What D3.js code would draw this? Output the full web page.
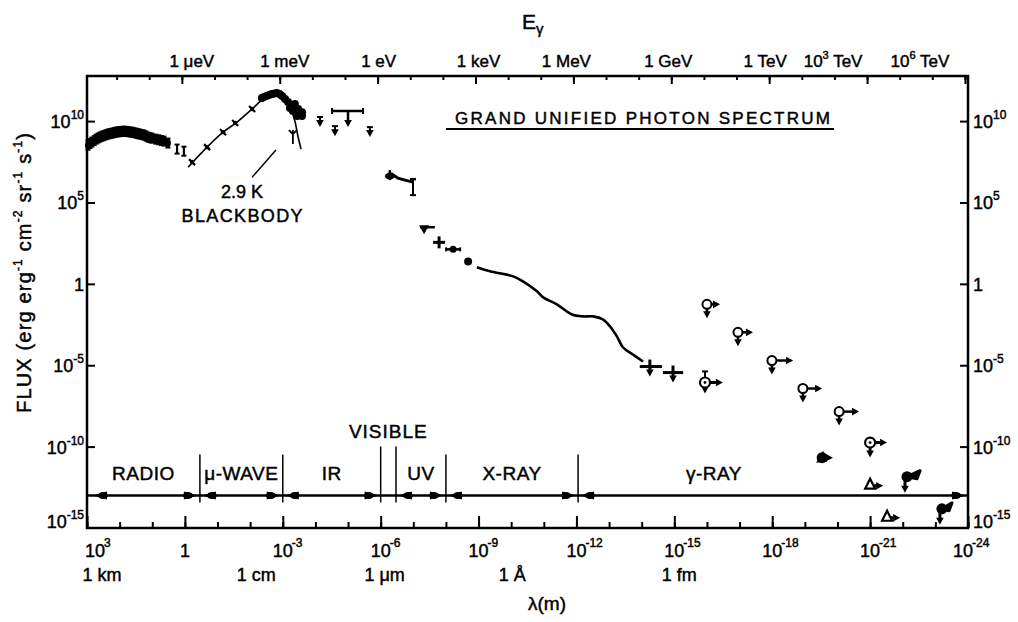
<!DOCTYPE html>
<html><head><meta charset="utf-8">
<script src="https://cdn.jsdelivr.net/npm/d3@7"></script>
<style>
html,body{margin:0;padding:0;background:#fff;}
svg{display:block;font-family:"Liberation Sans",Arial,sans-serif;}
svg text{fill:#000;stroke:#000;stroke-width:0.45px;}
</style></head><body>
<svg id="chart" width="1018" height="622"></svg>
<script>
// ================= DATA (log10 values) =================
const lamTickExps = [3,0,-3,-6,-9,-12,-15,-18,-21,-24];
const fluxTickExps = [10,5,0,-5,-10,-15];
const energyTickEv = [1e-6,1e-3,1,1e3,1e6,1e9,1e12,1e15,1e18];
const energyTickLabels = ["1 μeV","1 meV","1 eV","1 keV","1 MeV","1 GeV","1 TeV","10^3 TeV","10^6 TeV"];
const unitLabels = ["1 km","1 cm","1 μm","1 Å","1 fm"];
const unitLam = [1e3,1e-2,1e-6,1e-10,1e-15];
const bandNames = ["RADIO","μ-WAVE","IR","VISIBLE","UV","X-RAY","γ-RAY"];
const bandEdges = [3,-0.46,-3.0,-6.0,-6.47,-8.0,-12.05,-24];   // log10 λ
const bandLevel = -13;                                         // log10 flux of band line

// [log10 λ, log10 flux]
const radioPts = [[2.97,8.52],[2.91,8.62],[2.85,8.71],[2.78,8.80],[2.72,8.89],[2.66,8.96],[2.60,9.02],[2.54,9.07],[2.48,9.11],[2.42,9.16],[2.36,9.20],[2.30,9.23],[2.23,9.26],[2.17,9.29],[2.11,9.32],[2.05,9.34],[1.99,9.35],[1.93,9.37],[1.87,9.38],[1.80,9.37],[1.74,9.35],[1.68,9.33],[1.62,9.32],[1.56,9.29],[1.50,9.26],[1.44,9.23],[1.38,9.20],[1.31,9.17],[1.25,9.14],[1.19,9.08],[1.13,9.02],[1.07,8.98],[1.01,8.95],[0.89,8.89],[0.80,8.85],[0.72,8.81],[0.64,8.77],[0.52,8.65],[0.24,8.28],[0.03,8.15]];
const bbCurve = [[-0.10,7.17],[-0.68,8.40],[-1.17,9.32],[-1.60,9.94],[-2.06,10.74],[-2.39,11.35],[-2.61,11.60],[-2.76,11.66],[-3.01,11.48],[-3.22,10.86],[-3.37,10.0],[-3.47,9.02],[-3.56,8.28]];
const bbMarks = [[-0.22,7.48],[-0.68,8.40],[-1.17,9.32],[-1.54,9.88],[-2.06,10.74]];
const cmbPeak = [[-2.36,11.42],[-2.44,11.50],[-2.52,11.56],[-2.60,11.62],[-2.67,11.66],[-2.75,11.70],[-2.82,11.72],[-2.90,11.66],[-2.98,11.54],[-3.07,11.35],[-3.16,11.17],[-3.28,10.92],[-3.37,11.05],[-3.47,10.74],[-3.59,10.55],[-3.59,10.31],[-3.44,10.31],[-3.31,10.62],[-3.22,10.80]];
const bbErrPt = [-3.31,9.02];
const bbLeader = [[-2.06,6.55],[-2.79,8.22]];
const irLimits = [[-4.14,10.25],[-4.60,9.69],[-5.67,9.63]];
const irBarRange = [-4.51,-5.46], irBarFlux = 10.62, irBarLam = -5.0;
const optSeg = [[-6.19,6.62],[-6.35,6.74],[-6.53,6.49],[-6.75,6.37],[-6.99,6.25]];
const optErr = [5.45,6.43];
const xTriLam = -7.33, xTriBarRange = [-7.21,-7.66], xTriFlux = 3.48;
const xPlus = [-7.79,2.55];
const xDash = [-8.22,2.12];
const xDot = [-8.68,1.38];
const cxbCurve = [[-8.95,1.02],[-9.35,0.77],[-10.06,0.46],[-10.36,0.15],[-10.79,-0.46],[-10.98,-0.83],[-11.40,-1.26],[-11.86,-1.88],[-12.20,-2.0],[-12.51,-2.0],[-12.81,-2.18],[-13.03,-2.62],[-13.24,-3.23],[-13.43,-3.91],[-13.73,-4.34],[-14.04,-4.77]];
const gammaCross = [[-14.25,-5.08],[-14.96,-5.45]];
const gammaCrossRange = [[-13.94,-14.62],[-14.65,-15.27]];
const gammaOpen = [[-16.0,-1.26],[-16.95,-2.98],[-17.99,-4.71],[-18.94,-6.43],[-20.05,-7.85]];
const gammaOpenTip = [-16.40,-17.41,-18.64,-19.53,-20.66];
const gammaDot = [[-15.94,-6.06],[-21.0,-9.75]];
const gammaDotTip = [-16.49,-21.52];
const gammaDotErrTop = -5.38;
const gammaFilled = [[-19.53,-10.68],[-22.13,-11.85],[-23.2,-13.82]];
const gammaFilledTip = [-19.86,-22.53,-23.51];
const gammaTri = [[-21.0,-12.34],[-21.52,-14.31]];
const gammaTriTip = [-21.40,-21.92];

// ================= LAYOUT =================
const svg = d3.select("#chart");
const L=87,R=968,T=76,B=528;
const HC=1.23984e-6; // eV·m
const x=d3.scaleLog().domain([1e3,1e-24]).range([L,R]);
const y=d3.scaleLog().domain([1e-15,Math.pow(10,12.77)]).range([B,T]);
const eScale=d3.scaleLog().domain([HC/1e3,HC/1e-24]).range([L,R]);
const px=v=>x(Math.pow(10,v)), py=v=>y(Math.pow(10,v));
const P=d=>[px(d[0]),py(d[1])];
const g=svg.append("g");
const K="#000";

// frame
g.append("rect").attr("x",L).attr("y",T).attr("width",R-L).attr("height",B-T)
  .attr("fill","none").attr("stroke",K).attr("stroke-width",2.5);

function clean(sel){sel.select(".domain").remove();sel.selectAll("line").attr("stroke",K).attr("stroke-width",2);sel.selectAll("text").remove();}
const decLam=d3.range(3,-25,-1).map(k=>Math.pow(10,k));
g.append("g").attr("transform",`translate(0,${B})`).call(d3.axisTop(x).tickValues(decLam).tickSize(6).tickFormat("")).call(clean);
g.append("g").attr("transform",`translate(0,${B})`).call(d3.axisTop(x).tickValues(lamTickExps.map(e=>Math.pow(10,e))).tickSize(12).tickFormat("")).call(clean);
const decE=d3.range(-8,19).map(k=>Math.pow(10,k));
g.append("g").attr("transform",`translate(0,${T})`).call(d3.axisBottom(eScale).tickValues(decE).tickSize(4).tickFormat("")).call(clean);
g.append("g").attr("transform",`translate(0,${T})`).call(d3.axisBottom(eScale).tickValues(energyTickEv).tickSize(8).tickFormat("")).call(clean);
const fT=fluxTickExps.filter(e=>e>-15).map(e=>Math.pow(10,e));
g.append("g").attr("transform",`translate(${L},0)`).call(d3.axisRight(y).tickValues(fT).tickSize(8).tickFormat("")).call(clean);
g.append("g").attr("transform",`translate(${R},0)`).call(d3.axisLeft(y).tickValues(fT).tickSize(8).tickFormat("")).call(clean);

// bottom tick labels
lamTickExps.forEach((e,i)=>{
  let cx=x(Math.pow(10,e));
  if(i===0) cx+=8; if(i===lamTickExps.length-1) cx-=5;
  if(e===0){ g.append("text").attr("x",cx).attr("y",557).attr("text-anchor","middle").attr("font-size",18).text("1"); }
  else {
    g.append("text").attr("x",cx).attr("y",557).attr("text-anchor","middle").attr("font-size",18).text("10");
    g.append("text").attr("x",cx+9).attr("y",547).attr("font-size",12).text(e>0?String(e):"-"+(-e));
  }
});
// unit labels
const unitShift=[15,6,4,1,5];
unitLabels.forEach((t,i)=>{
  g.append("text").attr("x",x(unitLam[i])+unitShift[i]).attr("y",581).attr("text-anchor","middle").attr("font-size",18).text(t);
});
g.append("text").attr("x",547).attr("y",610).attr("text-anchor","middle").attr("font-size",19).text("λ(m)");

// flux labels both sides
fluxTickExps.forEach(e=>{
  const yy=py(e)+(e===-15?0:7);
  [{x:L-3,a:"end"},{x:R+5,a:"start"}].forEach(s=>{
    const t=g.append("text").attr("x",s.x).attr("y",yy).attr("text-anchor",s.a).attr("font-size",18);
    if(e===0) t.text("1");
    else { t.append("tspan").text("10"); t.append("tspan").attr("font-size",12).attr("dy",-9).text(e>0?String(e):"-"+(-e)); }
  });
});

// energy labels
const eOff=[10,5,1,3,-7,-3,-4,-34,-45];
energyTickEv.forEach((ev,i)=>{
  const t=g.append("text").attr("x",eScale(ev)+eOff[i]).attr("y",67).attr("text-anchor","middle").attr("font-size",17);
  const m=energyTickLabels[i].match(/^(\d+)\^(\d+)(.*)$/);
  if(m){ t.append("tspan").text(m[1]); t.append("tspan").attr("font-size",11).attr("dy",-8).text(m[2]); t.append("tspan").attr("dy",8).text(m[3]); }
  else t.text(energyTickLabels[i]);
});
const eg=g.append("text").attr("x",522).attr("y",29).attr("font-size",21);
eg.append("tspan").text("E"); eg.append("tspan").attr("font-size",15).attr("dy",5).text("γ");

// y title
const yt=g.append("text").attr("transform","translate(31,273) rotate(-90)").attr("text-anchor","middle")
  .attr("font-size",20).attr("textLength",280).attr("lengthAdjust","spacing");
[["FLUX (erg erg",0],["-1",1],[" cm",0],["-2",1],[" sr",0],["-1",1],[" s",0],["-1",1],[")",0]].forEach((p,i,arr)=>{
  const prevSup=i>0&&arr[i-1][1];
  const ts=yt.append("tspan").text(p[0]);
  if(p[1]){ts.attr("font-size",12).attr("dy",-9);} else if(prevSup){ts.attr("dy",9);}
});

// title
g.append("text").attr("x",455).attr("y",124).attr("font-size",17).attr("textLength",375).attr("lengthAdjust","spacing").text("GRAND UNIFIED PHOTON SPECTRUM");
g.append("line").attr("x1",446).attr("x2",834).attr("y1",129).attr("y2",129).attr("stroke",K).attr("stroke-width",2);

// ================= helpers =================
function seg(x1,y1,x2,y2,w){g.append("line").attr("x1",x1).attr("y1",y1).attr("x2",x2).attr("y2",y2).attr("stroke",K).attr("stroke-width",w||2);}
function downArrow(cx,y0,y1,w){seg(cx,y0,cx,y1-4,w||2);g.append("path").attr("d",`M${cx-3.8},${y1-7}L${cx+3.8},${y1-7}L${cx},${y1}Z`).attr("fill",K);}
function rightArrow(x0,x1,cy,w){seg(x0,cy,x1-4,cy,w||2.5);g.append("path").attr("d",`M${x1-7},${cy-3.8}L${x1-7},${cy+3.8}L${x1},${cy}Z`).attr("fill",K);}

// ================= bands =================
const yb=py(bandLevel);
seg(L,yb,R,yb,2.5);
bandEdges.slice(1,-1).forEach((e,i)=>{
  const vis=(i===2||i===3);
  seg(px(e),yb-(vis?49:41),px(e),yb+7,1.5);
});
bandNames.forEach((n,i)=>{
  const a=px(bandEdges[i]),b=px(bandEdges[i+1]);
  if(n!=="VISIBLE"){
    [[a+(i===0?6:2),1],[b-2,-1]].forEach(([tip,dir])=>{
      g.append("path").attr("d",`M${tip},${yb}L${tip+dir*14},${yb-4}L${tip+dir*14},${yb+4}Z`).attr("fill",K);
      g.append("ellipse").attr("cx",tip+dir*10).attr("cy",yb).attr("rx",5).attr("ry",3.5).attr("fill",K);
    });
    let cx=(a+b)/2; if(n==="γ-RAY") cx-=59;
    g.append("text").attr("x",cx).attr("y",yb-15).attr("text-anchor","middle").attr("font-size",19).attr("letter-spacing",0.5).text(n);
  } else {
    g.append("text").attr("x",(a+b)/2).attr("y",yb-57).attr("text-anchor","middle").attr("font-size",19).attr("letter-spacing",1).text(n);
  }
});

// ================= data =================
// radio cluster (dense error-bar marks forming a thick band)
radioPts.forEach((d,i)=>{const [cx,cy]=P(d);
  const last=i>=radioPts.length-2;
  seg(cx,cy-4.5,cx,cy+4.5,last?2.2:3.2);
  seg(cx-2.5,cy-4.5,cx+2.5,cy-4.5,2);seg(cx-2.5,cy+4.5,cx+2.5,cy+4.5,2);
  if(!last) g.append("ellipse").attr("cx",cx).attr("cy",cy).attr("rx",3).attr("ry",4).attr("fill",K);});
// blackbody curve
const line=d3.line().x(d=>px(d[0])).y(d=>py(d[1])).curve(d3.curveCatmullRom.alpha(0.5));
g.append("path").attr("d",line(bbCurve)).attr("fill","none").attr("stroke",K).attr("stroke-width",1.6);
bbMarks.forEach(d=>{const [cx,cy]=P(d);seg(cx-3,cy-3,cx+3,cy+3,2.2);g.append("circle").attr("cx",cx).attr("cy",cy).attr("r",2.2).attr("fill",K);});
cmbPeak.forEach(d=>{const [cx,cy]=P(d);g.append("circle").attr("cx",cx).attr("cy",cy).attr("r",4).attr("fill",K);});
{const [cx,cy]=P(bbErrPt);seg(cx,cy-7,cx,cy+7,1.8);seg(cx-4,cy-7,cx,cy-3,1.8);seg(cx+4,cy-7,cx,cy-3,1.8);}
// leader + labels
{const a=P(bbLeader[0]),b=P(bbLeader[1]);seg(a[0],a[1],b[0],b[1],1.4);
 g.append("text").attr("x",a[0]-10).attr("y",a[1]+21).attr("text-anchor","middle").attr("font-size",18).text("2.9 K");
 g.append("text").attr("x",a[0]-10).attr("y",a[1]+45).attr("text-anchor","middle").attr("font-size",18).attr("textLength",121).attr("lengthAdjust","spacing").text("BLACKBODY");}
// IR upper limits
irLimits.forEach(d=>{const [cx,cy]=P(d);seg(cx-3,cy,cx+3,cy,2);downArrow(cx,cy,cy+10,2);});
{const y0=py(irBarFlux);seg(px(irBarRange[0]),y0,px(irBarRange[1]),y0,2.5);downArrow(px(irBarLam),y0,y0+16,2.5);
 seg(px(irBarRange[0]),y0-3,px(irBarRange[0]),y0+3,2);seg(px(irBarRange[1]),y0-3,px(irBarRange[1]),y0+3,2);}
// optical segment
g.append("path").attr("d",d3.line().x(d=>px(d[0])).y(d=>py(d[1]))(optSeg)).attr("fill","none").attr("stroke",K).attr("stroke-width",3);
{const [cx,cy]=P(optSeg[0]);g.append("ellipse").attr("cx",cx+3).attr("cy",cy).attr("rx",5).attr("ry",3.5).attr("fill",K);seg(cx+3,cy-6,cx+3,cy+4,2.5);
 const last=optSeg[optSeg.length-1];const lx=px(last[0]);seg(lx,py(optErr[1]),lx,py(optErr[0]),2);seg(lx-3,py(optErr[0]),lx+3,py(optErr[0]),2);seg(lx-3,py(optErr[1]),lx+3,py(optErr[1]),2.5);}
// X-ray points
{const yy=py(xTriFlux);seg(px(xTriBarRange[0]),yy,px(xTriBarRange[1]),yy,2.5);const cx=px(xTriLam);
 g.append("path").attr("d",`M${cx-5},${yy-2}L${cx+5},${yy-2}L${cx},${yy+7}Z`).attr("fill",K);}
{const [cx,cy]=P(xPlus);seg(cx-6,cy,cx+6,cy,3);seg(cx,cy-6,cx,cy+6,3);}
{const [cx,cy]=P(xDash);seg(cx-7,cy,cx+7,cy,2.5);g.append("circle").attr("cx",cx).attr("cy",cy).attr("r",3.5).attr("fill",K);seg(cx-7,cy-2,cx-7,cy+2,2);seg(cx+7,cy-2,cx+7,cy+2,2);}
{const [cx,cy]=P(xDot);g.append("circle").attr("cx",cx).attr("cy",cy).attr("r",4).attr("fill",K);}
g.append("path").attr("d",line(cxbCurve)).attr("fill","none").attr("stroke",K).attr("stroke-width",2.6);
// gamma crosses
gammaCross.forEach((d,i)=>{const [cx,cy]=P(d);seg(px(gammaCrossRange[i][0]),cy,px(gammaCrossRange[i][1]),cy,3);
  seg(cx,cy-7,cx,cy,3);downArrow(cx,cy,cy+10,3);});
// open circles
gammaOpen.forEach((d,i)=>{const [cx,cy]=P(d);rightArrow(cx+4.5,px(gammaOpenTip[i]),cy,2.5);downArrow(cx,cy+4.5,cy+14,2.5);
  g.append("circle").attr("cx",cx).attr("cy",cy).attr("r",4.5).attr("fill","#fff").attr("stroke",K).attr("stroke-width",2);});
// dotted circles
gammaDot.forEach((d,i)=>{const [cx,cy]=P(d);rightArrow(cx+4.5,px(gammaDotTip[i]),cy,3);
  if(i===0){const yt2=py(gammaDotErrTop);seg(cx,yt2,cx,cy,2);seg(cx-3,yt2,cx+3,yt2,2);}
  downArrow(cx,cy+4.5,cy+(i===0?11:15),2.8);
  g.append("circle").attr("cx",cx).attr("cy",cy).attr("r",5).attr("fill","#fff").attr("stroke",K).attr("stroke-width",2.2);
  g.append("circle").attr("cx",cx).attr("cy",cy).attr("r",1.4).attr("fill",K);});
// filled blobs
gammaFilled.forEach((d,i)=>{const [cx,cy]=P(d);const tx=px(gammaFilledTip[i]);
  if(i===0){rightArrow(cx+3,tx,cy,4);g.append("path").attr("d",`M${cx-6},${cy+5}L${cx+1},${cy-7}L${cx+5},${cy+4}Z`).attr("fill",K);}
  else{g.append("path").attr("d",`M${cx},${cy}L${tx},${cy-6}L${tx-3},${cy+2}Z`).attr("fill",K).attr("stroke",K).attr("stroke-width",3).attr("stroke-linejoin","round");
    downArrow(cx-2,cy,cy+16,3);}
  g.append("circle").attr("cx",cx).attr("cy",cy).attr("r",5.5).attr("fill",K);});
// triangles
gammaTri.forEach((d,i)=>{const [cx,cy]=P(d);rightArrow(cx+4,px(gammaTriTip[i]),cy+1,3);
  g.append("path").attr("d",`M${cx},${cy-6}L${cx+5},${cy+4}L${cx-5},${cy+4}Z`).attr("fill","#fff").attr("stroke",K).attr("stroke-width",2.2);});
</script>
</body></html>
